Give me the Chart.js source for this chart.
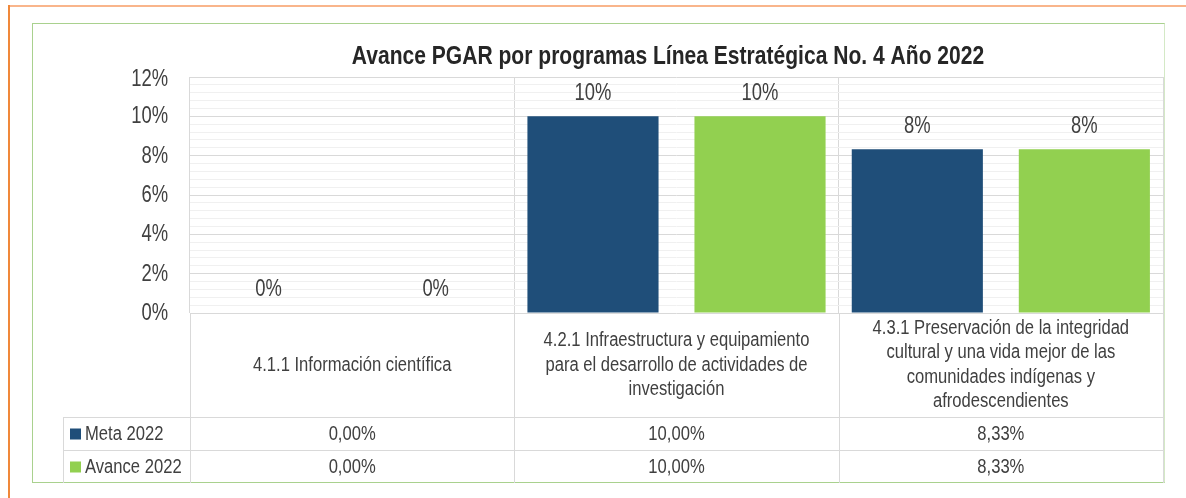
<!DOCTYPE html>
<html>
<head>
<meta charset="utf-8">
<script src="https://cdn.jsdelivr.net/npm/chart.js@4.4.0/dist/chart.umd.min.js"></script>
<style>
  body { margin: 0; background: #fff; }
  #wrap { position: relative; width: 1186px; height: 498px; overflow: hidden; }
  .orangeTop { position: absolute; left: 8px; top: 5px; width: 1178px; height: 2px; background: #F9B58B; }
  .orangeLeft { position: absolute; left: 8px; top: 5px; width: 2px; height: 493px; background: #F0883A; }
  .greenBox { position: absolute; left: 32px; top: 23px; width: 1131px; height: 458px; border: 1px solid #A9D18E; border-right-color: #D4E9C6; }
  canvas { position: absolute; left: 0; top: 0; }
</style>
</head>
<body>
<div id="wrap">
  <div class="orangeTop"></div>
  <div class="orangeLeft"></div>
  <div class="greenBox"></div>
  <canvas id="pgarChart" width="1186" height="498"></canvas>
</div>
<script>
// chart data
const categories = [
  ['4.1.1 Información científica'],
  ['4.2.1 Infraestructura y equipamiento', 'para el desarrollo de actividades de', 'investigación'],
  ['4.3.1 Preservación de la integridad', 'cultural y una vida mejor de las', 'comunidades indígenas y', 'afrodescendientes']
];
const seriesNames = ['Meta 2022', 'Avance 2022'];
const meta2022 = [0, 0.10, 0.0833];
const avance2022 = [0, 0.10, 0.0833];
const seriesColors = ['#1F4E79', '#92D050'];
const chartTitle = 'Avance PGAR por programas Línea Estratégica No. 4 Año 2022';

// no Arial Narrow here, so squeeze Liberation Sans horizontally
const FONT = "'Liberation Sans', Arial, sans-serif";
const TEXT = '#404040';
const isMajor = v => Math.abs(v * 50 - Math.round(v * 50)) < 1e-6;
const pct0 = v => Math.round(v * 100) + '%';
const pct2 = v => (v * 100).toFixed(2).replace('.', ',') + '%';

function narrowText(ctx, text, x, y, size, k, align, bold) {
  ctx.save();
  ctx.font = (bold ? 'bold ' : '') + size + 'px ' + FONT;
  ctx.textAlign = align;
  ctx.textBaseline = 'middle';
  ctx.translate(x, y);
  ctx.scale(k, 1);
  ctx.fillText(text, 0, 0);
  ctx.restore();
}

// title + y tick labels
const axisText = {
  id: 'axisText',
  afterDraw(chart) {
    const ctx = chart.ctx;
    const a = chart.chartArea;
    const y = chart.scales.y;
    ctx.save();
    ctx.fillStyle = '#262626';
    narrowText(ctx, chartTitle, 668, 57, 26, 0.81, 'center', true);
    ctx.fillStyle = TEXT;
    y.ticks.forEach(t => {
      if (!isMajor(t.value)) return;
      const py = Math.max(y.getPixelForValue(t.value) + 0.5, a.top + 3);
      narrowText(ctx, pct0(t.value), 168, py, 23, 0.8, 'right');
    });
    ctx.restore();
  }
};

// labels above each bar
const valueLabels = {
  id: 'valueLabels',
  afterDatasetsDraw(chart) {
    const ctx = chart.ctx;
    ctx.save();
    ctx.fillStyle = TEXT;
    chart.data.datasets.forEach((ds, i) => {
      chart.getDatasetMeta(i).data.forEach((el, j) => {
        narrowText(ctx, pct0(ds.data[j]), el.x, el.y - 23, 23, 0.8, 'center');
      });
    });
    ctx.restore();
  }
};

// data table under the plot
const dataTable = {
  id: 'dataTable',
  afterDraw(chart) {
    const ctx = chart.ctx;
    const a = chart.chartArea;
    const x = chart.scales.x;
    const n = categories.length;
    const w = (a.right - a.left) / n;
    const labelBottom = a.bottom + 104;
    const rowH = 33;
    const tableBottom = labelBottom + rowH * 2;
    const legendLeft = 63;

    ctx.save();
    ctx.strokeStyle = '#d9d9d9';
    ctx.lineWidth = 1;
    ctx.beginPath();
    for (let i = 0; i <= n; i++) {
      const px = Math.round(a.left + i * w) + 0.5;
      ctx.moveTo(px, a.bottom);
      ctx.lineTo(px, tableBottom);
    }
    ctx.moveTo(legendLeft + 0.5, labelBottom);
    ctx.lineTo(legendLeft + 0.5, tableBottom);
    ctx.moveTo(legendLeft, labelBottom + 0.5);
    ctx.lineTo(a.right, labelBottom + 0.5);
    ctx.moveTo(legendLeft, labelBottom + rowH + 0.5);
    ctx.lineTo(a.right, labelBottom + rowH + 0.5);
    ctx.stroke();

    ctx.fillStyle = TEXT;
    const lh = 24.5;
    const mid = (a.bottom + labelBottom) / 2;
    categories.forEach((lines, i) => {
      const cx = x.getPixelForValue(i);
      const y0 = mid - (lines.length - 1) * lh / 2;
      lines.forEach((t, k) => narrowText(ctx, t, cx, y0 + k * lh, 20, 0.83, 'center'));
    });

    chart.data.datasets.forEach((ds, r) => {
      const cy = labelBottom + rowH * r + rowH / 2 + 1;
      ctx.fillStyle = TEXT;
      ds.data.forEach((v, i) => {
        narrowText(ctx, pct2(v), x.getPixelForValue(i), cy, 20, 0.83, 'center');
      });
      narrowText(ctx, ds.label, legendLeft + 22, cy, 20, 0.83, 'left');
      ctx.fillStyle = ds.backgroundColor;
      ctx.fillRect(legendLeft + 7, cy - 6, 11, 11);
    });
    ctx.restore();
  }
};

const ctx = document.getElementById('pgarChart').getContext('2d');
new Chart(ctx, {
  type: 'bar',
  data: {
    labels: categories,
    datasets: [
      { label: seriesNames[0], data: meta2022, backgroundColor: seriesColors[0], categoryPercentage: 1.03, barPercentage: 0.785 },
      { label: seriesNames[1], data: avance2022, backgroundColor: seriesColors[1], categoryPercentage: 1.03, barPercentage: 0.785 }
    ]
  },
  options: {
    responsive: false,
    animation: false,
    devicePixelRatio: 1,
    layout: { padding: { left: 0, right: 23, top: 77, bottom: 15 } },
    plugins: {
      legend: { display: false },
      tooltip: { enabled: false },
      title: { display: false }
    },
    scales: {
      x: {
        ticks: { display: false },
        grid: { color: '#d9d9d9', drawTicks: false, offset: true },
        border: { display: false },
        afterFit: s => { s.height = 170; }
      },
      y: {
        min: 0,
        max: 0.12,
        ticks: { display: false, stepSize: 0.004, autoSkip: false },
        grid: {
          drawTicks: false,
          color: c => isMajor(c.tick.value) ? '#d9d9d9' : '#f0f0f0'
        },
        border: { display: false },
        afterFit: s => { s.width = 190; }
      }
    }
  },
  plugins: [valueLabels, axisText, dataTable]
});
</script>
</body>
</html>
